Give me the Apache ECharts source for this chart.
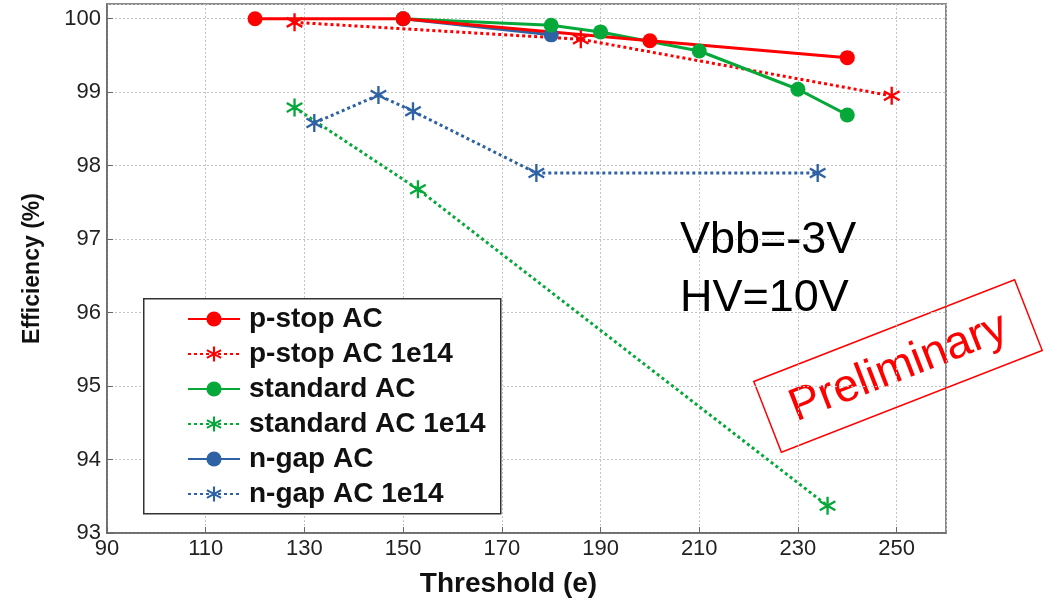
<!DOCTYPE html>
<html>
<head>
<meta charset="utf-8">
<title>Efficiency vs Threshold</title>
<script src="https://cdn.jsdelivr.net/npm/echarts@6/dist/echarts.min.js"></script>
<style>
  html, body { margin: 0; padding: 0; background: #fff; }
  #chart { width: 1043px; height: 603px; }
</style>
</head>
<body>
<div id="chart"></div>
<script>
// Efficiency (%) measured against threshold (e) for each sensor flavour
const pstopAC        = [[120, 100.0], [150, 100.0], [200, 99.70], [240, 99.47]];
const pstopAC1e14    = [[128, 99.95], [186, 99.72], [249, 98.95]];
const standardAC     = [[150, 100.0], [180, 99.91], [190, 99.82], [210, 99.56], [230, 99.04], [240, 98.69]];
const standardAC1e14 = [[128, 98.79], [153, 97.68], [236, 93.37]];
const ngapAC         = [[150, 100.0], [180, 99.78]];
const ngapAC1e14     = [[132, 98.58], [145, 98.96], [152, 98.74], [177, 97.90], [234, 97.90]];

const seriesNames = ['p-stop AC', 'p-stop AC 1e14', 'standard AC', 'standard AC 1e14', 'n-gap AC', 'n-gap AC 1e14'];

const xTicks = { min: 90, max: 260, step: 20 };
const yTicks = { min: 93, max: 100.2, step: 1 };

const RED = '#ff0000', GREEN = '#06a83a', BLUE = '#2e62a4';
const FONT = '"Liberation Sans", Arial, sans-serif';

// Six-armed asterisk marker built from three thin bars
function asteriskPath() {
  const L = 100, t = 13;
  let d = '';
  [0, 60, -60].forEach(function (deg) {
    const a = deg * Math.PI / 180;
    const dx = Math.sin(a), dy = -Math.cos(a);
    const nx = Math.cos(a), ny = Math.sin(a);
    const pts = [
      [L * dx + t * nx, L * dy + t * ny],
      [-L * dx + t * nx, -L * dy + t * ny],
      [-L * dx - t * nx, -L * dy - t * ny],
      [L * dx - t * nx, L * dy - t * ny]
    ].map(function (p) { return (p[0] + 100).toFixed(2) + ' ' + (p[1] + 100).toFixed(2); });
    d += 'M' + pts[0] + ' L' + pts[1] + ' L' + pts[2] + ' L' + pts[3] + ' Z ';
  });
  return 'path://' + d;
}
const STAR = asteriskPath();

function solidSeries(name, data, color) {
  return {
    name: name, type: 'line', data: data,
    symbol: 'circle', symbolSize: 15,
    lineStyle: { color: color, width: 3 },
    itemStyle: { color: color },
    emphasis: { disabled: true }
  };
}
function dottedSeries(name, data, color) {
  return {
    name: name, type: 'line', data: data,
    symbol: STAR, symbolSize: 18, symbolKeepAspect: true,
    lineStyle: { color: color, width: 3, type: [3, 3] },
    itemStyle: { color: color },
    emphasis: { disabled: true }
  };
}

const chart = echarts.init(document.getElementById('chart'), null, { renderer: 'canvas' });

chart.setOption({
  animation: false,
  backgroundColor: '#ffffff',
  textStyle: { fontFamily: FONT },
  grid: {
    left: 107, right: 97, top: 4, bottom: 69,
    show: true, borderColor: '#8a8a8a', borderWidth: 2, backgroundColor: 'transparent'
  },
  xAxis: {
    type: 'value', min: xTicks.min, max: xTicks.max, interval: xTicks.step,
    name: 'Threshold (e)', nameLocation: 'middle', nameGap: 37,
    nameTextStyle: { fontFamily: FONT, fontSize: 28, fontWeight: 'bold', color: '#111', padding: [0, 36, 0, 0] },
    axisLine: { show: true, lineStyle: { color: '#666', width: 1.5 } },
    axisTick: { show: true, inside: true, length: 6, lineStyle: { color: '#666' } },
    axisLabel: { fontFamily: FONT, fontSize: 22, color: '#222', margin: 5, showMaxLabel: false },
    splitLine: { show: true, lineStyle: { color: '#c4c4c4', width: 1, type: [2, 2] } }
  },
  yAxis: {
    type: 'value', min: yTicks.min, max: yTicks.max, interval: yTicks.step,
    name: 'Efficiency (%)', nameLocation: 'middle', nameGap: 63, nameRotate: 90,
    nameTextStyle: { fontFamily: FONT, fontSize: 23, fontWeight: 'bold', color: '#111' },
    axisLine: { show: true, lineStyle: { color: '#666', width: 1.5 } },
    axisTick: { show: true, inside: true, length: 6, lineStyle: { color: '#666' } },
    axisLabel: { fontFamily: FONT, fontSize: 22, color: '#222', margin: 6, showMaxLabel: false },
    splitLine: { show: true, lineStyle: { color: '#c4c4c4', width: 1, type: [2, 2] } }
  },
  legend: {
    data: seriesNames,
    orient: 'vertical',
    left: 187, top: 305, z: 6,
    itemWidth: 52, itemHeight: 19, itemGap: 7,
    selectedMode: false,
    padding: 0,
    textStyle: { fontFamily: FONT, fontSize: 28, fontWeight: 'bold', color: '#111', lineHeight: 26, padding: [0, 0, 0, 4] }
  },
  // drawn bottom-to-top: the solid p-stop curve ends up above the others
  series: [
    dottedSeries('n-gap AC 1e14', ngapAC1e14, BLUE),
    dottedSeries('standard AC 1e14', standardAC1e14, GREEN),
    dottedSeries('p-stop AC 1e14', pstopAC1e14, RED),
    solidSeries('n-gap AC', ngapAC, BLUE),
    solidSeries('standard AC', standardAC, GREEN),
    solidSeries('p-stop AC', pstopAC, RED)
  ],
  graphic: [
    {
      type: 'rect', left: 143, top: 298, z: 3,
      shape: { width: 357, height: 215 },
      style: { fill: '#fff', stroke: '#333', lineWidth: 1.5 }
    },
    {
      type: 'text', left: 680, top: 218, z: 20,
      style: { text: 'Vbb=-3V', font: '45px ' + FONT, fill: '#000' }
    },
    {
      type: 'text', left: 680, top: 276, z: 20,
      style: { text: 'HV=10V', font: '45px ' + FONT, fill: '#000' }
    },
    {
      type: 'group', x: 898, y: 366, rotation: 0.372, z: 20,
      children: [
        {
          type: 'rect',
          shape: { x: -140, y: -38, width: 280, height: 76 },
          style: { fill: 'rgba(255,255,255,0)', stroke: RED, lineWidth: 1.5 }
        },
        {
          type: 'text', x: 0, y: 2,
          style: { text: 'Preliminary', font: '46px ' + FONT, fill: RED, align: 'center', verticalAlign: 'middle' }
        }
      ]
    }
  ]
});
</script>
</body>
</html>
